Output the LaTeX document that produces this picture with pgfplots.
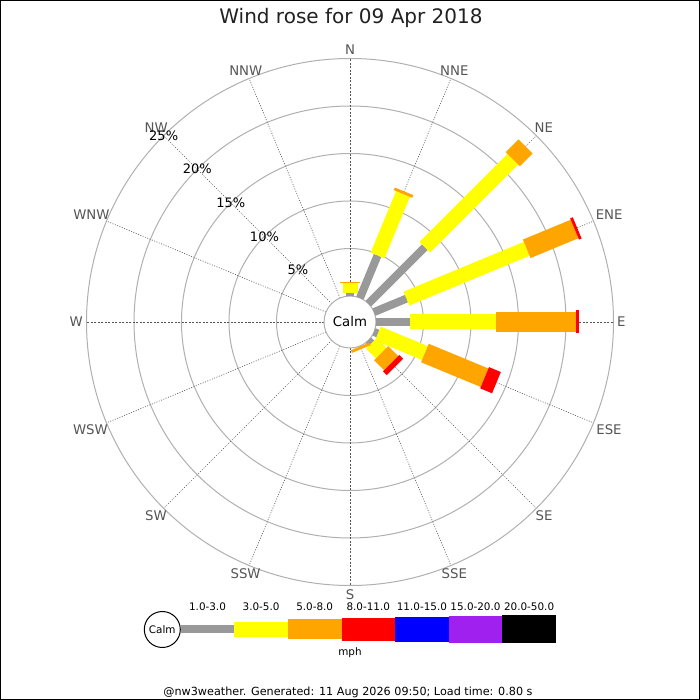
\documentclass[border=0pt]{standalone}
\usepackage{pgfplots}
\pgfplotsset{compat=1.18}
\usepgfplotslibrary{polar}
\usepackage{fontspec}
\setmainfont{DejaVu Sans}
\definecolor{cGray}{HTML}{999999}
\definecolor{cYellow}{HTML}{FFFF00}
\definecolor{cOrange}{HTML}{FFA500}
\definecolor{cRed}{HTML}{FF0000}
\definecolor{cBlue}{HTML}{0000FF}
\definecolor{cPurple}{HTML}{A020F0}
\definecolor{cRing}{HTML}{B0B0B0}
\definecolor{cLab}{HTML}{555555}
\def\off{2.7368}
\pgfplotsset{
  bGray/.style={cGray, line width=8pt, data cs=polar, no markers},
  bYellow/.style={cYellow, line width=15pt, data cs=polar, no markers},
  bOrange/.style={cOrange, line width=20pt, data cs=polar, no markers},
  bRed/.style={cRed, line width=23pt, data cs=polar, no markers},
}
% \seg{angle}{from %}{to %}{style}
\newcommand\seg[4]{%
  \pgfmathsetmacro\segA{#2+\off}%
  \pgfmathsetmacro\segB{#3+\off}%
  \edef\segcmd{\noexpand\addplot[#4] coordinates {(#1,\segA) (#1,\segB)};}%
  \segcmd}
\begin{document}
\begin{tikzpicture}
\useasboundingbox (-350pt,-378pt) rectangle (350pt,322pt);
\fill[white] (-350pt,-378pt) rectangle (350pt,322pt);
\draw[line width=1pt] (-349.5pt,-377.5pt) rectangle (349.5pt,321.5pt);
% rings
\foreach \r in {73.5,121,168.5,216,263.5}
  \draw[cRing, line width=1pt] (0,0) circle[radius=\r pt];
% spokes
\foreach \a in {0,90,180,270}
  \draw[cLab, line width=0.6pt, dash pattern=on 2pt off 1.5pt] (\a:26pt) -- (\a:263.5pt);
\foreach \a in {22.5,45,67.5,112.5,135,157.5,202.5,225,247.5,292.5,315,337.5}
  \draw[cLab, line width=0.6pt, dash pattern=on 1pt off 1.5pt] (\a:26pt) -- (\a:263.5pt);
% calm circle
\draw[cRing, fill=white, line width=1pt] (0,0) circle[radius=26pt];
\begin{axis}[at={(0pt,0pt)}, anchor=center, x=9.5pt, y=9.5pt,
  xmin=-27, xmax=27, ymin=-27, ymax=27, hide axis, clip=false]
% N
\seg{90}{0}{0.3}{bGray}
\seg{90}{0.3}{1.35}{bYellow}
\seg{90}{1.35}{1.5}{bOrange}
% NNE
\seg{67.5}{0}{4.85}{bGray}
\seg{67.5}{4.85}{11.85}{bYellow}
\seg{67.5}{11.85}{12.15}{bOrange}
% NE
\seg{45}{0}{8.4}{bGray}
\seg{45}{8.4}{21.5}{bYellow}
\seg{45}{21.5}{23.4}{bOrange}
% ENE
\seg{22.5}{0}{3.7}{bGray}
\seg{22.5}{3.7}{17.4}{bYellow}
\seg{22.5}{17.4}{22.85}{bOrange}
\seg{22.5}{22.85}{23.15}{bRed}
% E
\seg{0}{0}{3.6}{bGray}
\seg{0}{3.6}{12.6}{bYellow}
\seg{0}{12.6}{21.05}{bOrange}
\seg{0}{21.05}{21.35}{bRed}
% ESE
\seg{-22.5}{0}{0.45}{bGray}
\seg{-22.5}{0.45}{5.8}{bYellow}
\seg{-22.5}{5.8}{12.6}{bOrange}
\seg{-22.5}{12.6}{13.95}{bRed}
% SE
\seg{-45}{0}{0.45}{bGray}
\seg{-45}{0.45}{1.9}{bYellow}
\seg{-45}{1.9}{3.4}{bOrange}
\seg{-45}{3.4}{3.95}{bRed}
% SSE
\seg{-67.5}{0.05}{0.35}{bOrange}
\end{axis}
% Calm text
\node[font=\fontsize{13.3}{16}\selectfont, inner sep=0pt] at (0pt,0pt) {Calm};
% direction labels
\foreach \a/\t in {90/N,67.5/NNE,45/NE,22.5/ENE,0/E,-22.5/ESE,-45/SE,-67.5/SSE,-90/S,-112.5/SSW,-135/SW,-157.5/WSW,180/W,157.5/WNW,135/NW,112.5/NNW}{
  \pgfmathsetmacro\an{mod(\a+540,360)}
  \node[cLab, font=\fontsize{13.3}{16}\selectfont, inner sep=0pt, anchor=\an] at (\a:267pt) {\t};
}
% percentage labels
\foreach \p/\r in {5/73.5,10/121,15/168.5,20/216,25/263.5}
  \node[font=\fontsize{13}{15}\selectfont, inner sep=0pt] at (135:\r pt) {\p\%};
% title
\node[font=\fontsize{20}{24}\selectfont, anchor=base, inner sep=0pt, text=black!87] at (1pt,298pt) {Wind rose for 09 Apr 2018};
% legend
\draw[line width=1pt] (-187.7pt,-307.5pt) circle[radius=18pt];
\node[font=\fontsize{10.4}{12}\selectfont, inner sep=0pt] at (-187.7pt,-307.5pt) {Calm};
\fill[cGray]   (-169.3pt,-311.3pt) rectangle (-115.7pt,-303.3pt);
\fill[cYellow] (-115.7pt,-314.6pt) rectangle (-62.1pt,-300.0pt);
\fill[cOrange] (-62.1pt,-317.3pt) rectangle (-8.5pt,-297.3pt);
\fill[cRed]    (-8.5pt,-318.8pt) rectangle (45.1pt,-295.8pt);
\fill[cBlue]   (45.1pt,-319.8pt) rectangle (98.7pt,-294.8pt);
\fill[cPurple] (98.7pt,-320.8pt) rectangle (152.3pt,-293.8pt);
\fill[black]   (152.3pt,-321.3pt) rectangle (205.9pt,-293.3pt);
\foreach \x/\t in {-142.5/1.0-3.0,-88.9/3.0-5.0,-35.3/5.0-8.0,18.3/8.0-11.0,71.9/11.0-15.0,125.5/15.0-20.0,179.1/20.0-50.0}
  \node[font=\fontsize{10.4}{12}\selectfont, anchor=base, inner sep=0pt] at (\x pt,-288.7pt) {\t};
\node[font=\fontsize{10.4}{12}\selectfont, inner sep=0pt] at (0pt,-331pt) {mph};
\node[font=\fontsize{11.2}{13}\selectfont, anchor=base, inner sep=0pt] at (-2pt,-373pt) {@nw3weather. Generated: 11 Aug 2026 09:50; Load time: 0.80 s};
\end{tikzpicture}
\end{document}
